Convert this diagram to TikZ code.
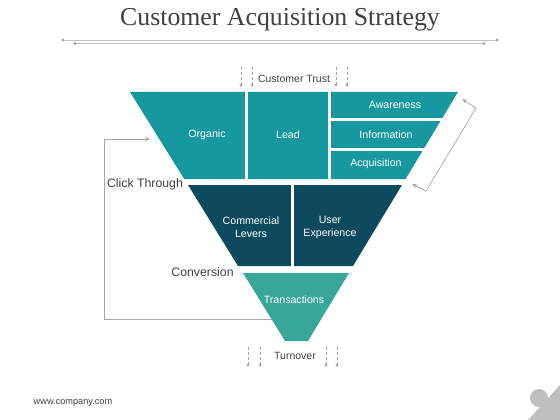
\documentclass[tikz,border=0pt]{standalone}
\usepackage{fontspec}
\setmainfont{Liberation Sans}
\newfontfamily\titlefont{Liberation Serif}
\usetikzlibrary{arrows.meta}
\definecolor{tealA}{HTML}{17979E}
\definecolor{navyA}{HTML}{0E4A5E}
\definecolor{tealB}{HTML}{38A699}
\definecolor{txtc}{HTML}{404040}
\definecolor{lnc}{HTML}{A6A6A6}
\definecolor{logoc}{HTML}{BFBFBF}
\tikzset{
  inlabel/.style={text=white, font=\fontsize{10.6}{13}\selectfont, align=center},
  outlabel/.style={text=txtc, font=\fontsize{10.5}{12}\selectfont},
  biglabel/.style={text=txtc, font=\fontsize{12.3}{14}\selectfont},
  gap/.style={draw=white, line width=3pt},
  dashdown/.style={draw=lnc, densely dashed, line width=0.6pt, -{Triangle[width=3pt,length=3pt]}},
  loopline/.style={draw=lnc, line width=0.7pt},
  looparrow/.style={draw=lnc, line width=0.7pt, -{Stealth[width=4pt,length=5pt]}},
  rule/.style={draw=lnc!70, line width=0.9pt},
  ruledot/.style={fill=lnc}
}
\begin{document}
\begin{tikzpicture}[x=1pt,y=-1pt]
\useasboundingbox (0,0) rectangle (560,420);
% title
\node[font=\titlefont\fontsize{25.8}{30}\selectfont, text=txtc] (title) at (280,20) {Customer Acquisition Strategy};
\draw[rule] (63,40) -- (497,40);
\fill[ruledot] (63,40) circle (1.6) (497,40) circle (1.6);
\draw[rule, line width=0.6pt] (75,43.5) -- (484,43.5);
\fill[ruledot] (75,43.5) circle (1.6) (484,43.5) circle (1.6);
% funnel sections
\fill[tealA] (130,92) -- (458,92) -- (405.6,179) -- (184.2,179) -- cycle;
\fill[navyA] (188,185) -- (402,185) -- (353,266) -- (238,266) -- cycle;
\fill[tealB] (243,273) -- (349,273) -- (308,341) -- (285,341) -- cycle;
% dividers
\draw[gap] (246.5,90) -- (246.5,181);
\draw[gap] (329.5,90) -- (329.5,181);
\draw[gap] (329.5,119.5) -- (470,119.5);
\draw[gap] (329.5,149) -- (470,149);
\draw[gap] (292.5,183) -- (292.5,268);
% inner labels
\node[inlabel] (organic) at (207,135) {Organic};
\node[inlabel] (lead) at (288,135) {Lead};
\node[inlabel] (aware) at (395,105) {Awareness};
\node[inlabel] (info) at (386,134.5) {Information};
\node[inlabel] (acq) at (376,164) {Acquisition};
\node[inlabel] (comm) at (251,227) {Commercial\\Levers};
\node[inlabel] (ux) at (330,227) {User\\Experience};
\node[inlabel] (trans) at (294,300) {Transactions};
% outer labels
\node[outlabel] (trust) at (294,79) {Customer Trust};
\node[biglabel] (click) at (145,184) {Click Through};
\node[biglabel] (conv) at (202.5,272) {Conversion};
\node[outlabel] (turn) at (295,356) {Turnover};
\node[text=txtc, font=\fontsize{9.2}{11}\selectfont] (web) at (73,403) {www.company.com};
% dashed arrows
\foreach \x in {241,252,336,347} {
  \coordinate (ta\x) at (\x,67);
  \coordinate (tb\x) at (\x,87);
  \draw[dashdown] (ta\x) -- (tb\x);
}
\foreach \x in {248,260,326,337} {
  \coordinate (ua\x) at (\x,347);
  \coordinate (ub\x) at (\x,367);
  \draw[dashdown] (ua\x) -- (ub\x);
}
% left loop
\coordinate (loopstart) at (272,319);
\coordinate (loopcorner) at (104,319);
\coordinate (looptop) at (104,139);
\coordinate (loopend) at (150,139);
\draw[loopline] (loopstart) -- (loopcorner) -- (looptop);
\draw[looparrow] (looptop) -- (loopend);
% right loop arrow
\coordinate (rA) at (462,99);
\coordinate (rB) at (476,108);
\coordinate (rC) at (426,191);
\coordinate (rD) at (412,184);
\draw[loopline, {Stealth[width=4pt,length=5pt]}-{Stealth[width=4pt,length=5pt]}] (rA) -- (rB) -- (rC) -- (rD);
% logo
\fill[logoc] (528,420) -- (560,420) -- (560,385) -- cycle;
\fill[logoc] (539,398) circle (9);
\end{tikzpicture}
\end{document}
